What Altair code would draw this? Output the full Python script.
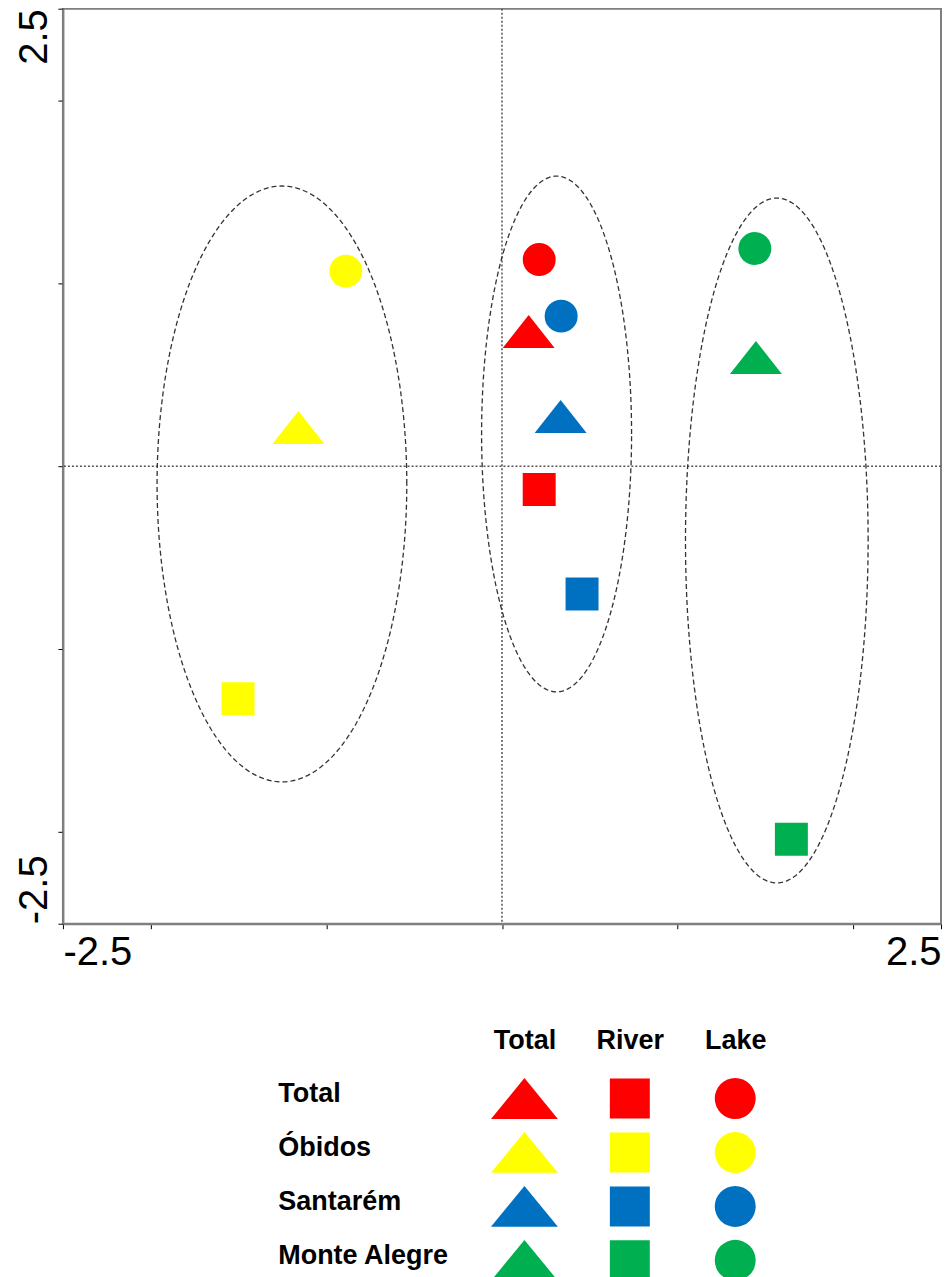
import altair as alt
import pandas as pd
import numpy as np

# ---- data ----
site = ["Total", "Total", "Total",
        "Óbidos", "Óbidos", "Óbidos",
        "Santarém", "Santarém", "Santarém",
        "Monte Alegre", "Monte Alegre", "Monte Alegre"]
kind = ["Total", "River", "Lake"] * 4
pc1 = [0.152, 0.212, 0.212,
       -1.159, -1.503, -0.889,
       0.334, 0.456, 0.337,
       1.446, 1.648, 1.440]
pc2 = [0.736, -0.127, 1.129,
       0.211, -1.271, 1.066,
       0.271, -0.698, 0.820,
       0.594, -2.039, 1.189]

# grouping ellipses: centre and radii
ell_id = ["A", "B", "C"]
ell_cx = [-1.253, 0.311, 1.565]
ell_cy = [-0.097, 0.176, -0.406]
ell_rx = [0.711, 0.427, 0.520]
ell_ry = [1.628, 1.409, 1.871]

sites_order = ["Total", "Óbidos", "Santarém", "Monte Alegre"]
site_colors = ["#FF0000", "#FFFF00", "#0070C0", "#00B050"]
kinds_order = ["Total", "River", "Lake"]

axis_values = [-2.5, -2, -1, 0, 1, 2, 2.5]

# ---- tables ----
pts = pd.DataFrame({"site": site, "kind": kind, "x": pc1, "y": pc2})

rows = []
for e, cx, cy, rx, ry in zip(ell_id, ell_cx, ell_cy, ell_rx, ell_ry):
    for i, t in enumerate(np.linspace(0, 2 * np.pi, 241)):
        rows.append({"ell": e, "i": i, "x": cx + rx * np.cos(t), "y": cy + ry * np.sin(t)})
ell = pd.DataFrame(rows)

zero_df = pd.DataFrame({"v": [0]})
legend_df = pd.DataFrame([(r, c) for r in sites_order for c in kinds_order], columns=["site", "kind"])

TRI_MAIN = "M0,-0.635L-1,0.635L1,0.635Z"
TRI_LEG = "M0,-0.61L-1,0.61L1,0.61Z"
FONT = "Liberation Sans"

xscale = alt.Scale(domain=[-2.5, 2.5], nice=False, zero=False)
yscale = alt.Scale(domain=[-2.5, 2.5], nice=False, zero=False)

label_expr = "abs(datum.value) == 2.5 ? (datum.value < 0 ? '-' : '') + format(abs(datum.value), '.1f') : ''"

x_axis = alt.Axis(values=axis_values, labelExpr=label_expr, labelFlush=True, grid=False,
                  title=None, labelFontSize=40, labelFont=FONT, labelColor="black",
                  tickColor="black", tickSize=5, tickWidth=1, domainColor="#7f7f7f",
                  domainWidth=2, labelPadding=4)
y_axis = alt.Axis(values=axis_values, labelExpr=label_expr, grid=False, title=None,
                  labelFontSize=40, labelFont=FONT, labelColor="black",
                  tickColor="black", tickSize=5, tickWidth=1, domainColor="#7f7f7f",
                  domainWidth=2, labelPadding=11, labelAngle=270,
                  labelAlign={"condition": {"test": "datum.value > 0", "value": "right"}, "value": "left"},
                  labelBaseline="alphabetic")

base_x = alt.X("x:Q", scale=xscale, axis=x_axis)
base_y = alt.Y("y:Q", scale=yscale, axis=y_axis)

vline = alt.Chart(zero_df).mark_rule(color="#555555", strokeDash=[2, 2], strokeWidth=1.5).encode(
    x=alt.X("v:Q", scale=xscale, axis=x_axis))
hline = alt.Chart(zero_df).mark_rule(color="#555555", strokeDash=[2, 2], strokeWidth=1.5).encode(
    y=alt.Y("v:Q", scale=yscale, axis=y_axis))

ellipses = alt.Chart(ell).mark_line(color="#333333", strokeDash=[5, 3], strokeWidth=1.3).encode(
    x=base_x, y=base_y, detail="ell:N", order="i:Q")

color_enc = alt.Color("site:N", scale=alt.Scale(domain=sites_order, range=site_colors), legend=None)

points = alt.Chart(pts).mark_point(filled=True, opacity=1).encode(
    x=base_x, y=base_y,
    color=color_enc,
    shape=alt.Shape("kind:N", scale=alt.Scale(domain=kinds_order, range=[TRI_MAIN, "square", "circle"]), legend=None),
    size=alt.Size("kind:N", scale=alt.Scale(type="ordinal", domain=kinds_order, range=[2704, 1089, 1089]), legend=None),
)

main = alt.layer(vline, hline, ellipses, points).properties(
    width=879, height=916,
    view=alt.ViewBackground(stroke="#7f7f7f", strokeWidth=2))

legend = alt.Chart(legend_df).mark_point(filled=True, opacity=1).encode(
    x=alt.X("kind:N", sort=kinds_order,
            scale=alt.Scale(type="point", padding=0, range=[462, 673]),
            axis=alt.Axis(orient="top", title=None, domain=False, ticks=False, labelAngle=0,
                          labelFontSize=27, labelFontWeight="bold", labelFont=FONT,
                          labelColor="black", labelPadding=23, labelBaseline="alphabetic")),
    y=alt.Y("site:N", sort=sites_order,
            scale=alt.Scale(type="point", padding=0.5),
            axis=alt.Axis(title=None, domain=False, ticks=False, labelAlign="left",
                          labelPadding=-215, labelFontSize=27, labelFontWeight="bold",
                          labelFont=FONT, labelColor="black", labelOffset=-5,
                          labelBaseline="middle", labelLimit=400)),
    color=color_enc,
    shape=alt.Shape("kind:N", scale=alt.Scale(domain=kinds_order, range=[TRI_LEG, "square", "circle"]), legend=None),
    size=alt.Size("kind:N", scale=alt.Scale(type="ordinal", domain=kinds_order, range=[4489, 1600, 1681]), legend=None),
).properties(width=879, height=216,
             view=alt.ViewBackground(stroke="transparent"))

chart = alt.vconcat(main, legend, spacing=52).resolve_scale(
    x="independent", y="independent", color="independent", shape="independent", size="independent"
).configure(background="white", padding={"left": 6, "top": -2, "right": 0, "bottom": 0})

chart.save("out.html", embed_options={"renderer": "svg", "actions": False})
